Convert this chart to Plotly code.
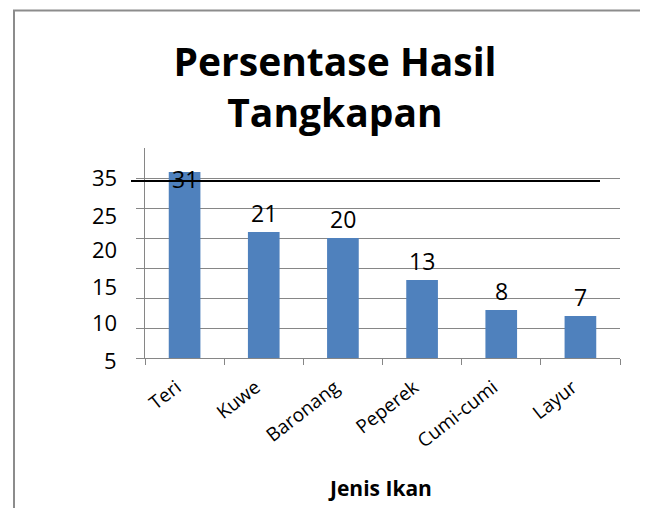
import plotly.graph_objects as go

categories = ["Teri", "Kuwe", "Baronang", "Peperek", "Cumi-cumi", "Layur"]
values = [31, 21, 20, 13, 8, 7]
ylabel_texts = ["35", "25", "20", "15", "10", "5"]
ylabel_px = [177, 215, 249, 286, 322, 360]   # vertical centres (page pixels) of the hand-placed y labels

# page has an 8px body margin -> build figure in page coordinates shifted by OFF
OFF = 8
W, H = 648 - OFF, 508 - OFF
PL, PR, PT, PB = 145, 620, 148, 358   # plot area in page pixels
L = PL - OFF
T = PT - OFF
R = W - (PR - OFF)
B = H - (PB - OFF)
pw = PR - PL
ph = PB - PT

def px_x(x):
    return (x - PL) / pw

def px_y(y):
    return (PB - y) / ph

FONT = "Open Sans"
GRID = "#868686"

fig = go.Figure()
fig.add_trace(go.Bar(
    x=categories, y=values,
    marker=dict(color="#4F81BD", line=dict(width=0)),
    width=0.4, hoverinfo="x+y",
))

annotations = []
for i, (c, v) in enumerate(zip(categories, values)):
    if i == 0:
        annotations.append(dict(x=c, y=v, xref="x", yref="y", text=str(v), showarrow=False,
                                yanchor="middle", yshift=-7,
                                font=dict(family=FONT, size=23, color="black")))
    else:
        annotations.append(dict(x=c, y=v, xref="x", yref="y", text=str(v), showarrow=False,
                                yanchor="bottom", yshift=1,
                                font=dict(family=FONT, size=23, color="black")))

for t, p in zip(ylabel_texts, ylabel_px):
    annotations.append(dict(x=px_x(119), y=px_y(p), xref="paper", yref="paper", text=t, showarrow=False,
                            xanchor="right", yanchor="middle",
                            font=dict(family=FONT, size=22, color="black")))

annotations.append(dict(x=px_x(380), y=px_y(488), xref="paper", yref="paper",
                        text="<b>Jenis Ikan</b>", showarrow=False, xanchor="center", yanchor="middle",
                        font=dict(family=FONT, size=21, color="black")))

shapes = [
    dict(type="line", xref="paper", yref="paper", x0=px_x(131), x1=px_x(600),
         y0=px_y(181), y1=px_y(181), line=dict(color="black", width=2), layer="above"),
    dict(type="path", xref="paper", yref="paper",
         path=f"M {px_x(14)},{px_y(540)} L {px_x(14)},{px_y(10.5)} L {px_x(700)},{px_y(10.5)}",
         line=dict(color="#8c8c8c", width=2)),
]

fig.update_layout(
    width=W, height=H,
    margin=dict(l=L, r=R, t=T, b=B, autoexpand=False),
    paper_bgcolor="white", plot_bgcolor="white",
    showlegend=False,
    bargap=0.6,
    title=dict(text="<b>Persentase Hasil<br>Tangkapan</b>", x=(335 - OFF) / W, xanchor="center",
               yref="container", y=1 - 68 / H, yanchor="top",
               font=dict(family=FONT, size=39, color="black")),
    annotations=annotations,
    shapes=shapes,
    xaxis=dict(showline=True, linecolor=GRID, linewidth=1, ticks="outside", tickson="boundaries",
               ticklen=6, tickcolor=GRID, tickangle=-38, showgrid=False, automargin=False,
               ticklabelstandoff=10, ticklabelshift=-8,
               tickfont=dict(family=FONT, size=19, color="black")),
    yaxis=dict(range=[0, 35], tickvals=[0, 5, 10, 15, 20, 25, 30], showticklabels=False,
               showgrid=True, gridcolor=GRID, gridwidth=1, ticks="outside", ticklen=8,
               tickcolor=GRID, showline=True, linecolor=GRID, linewidth=1, zeroline=False,
               automargin=False),
)

fig.write_html("out.html")
